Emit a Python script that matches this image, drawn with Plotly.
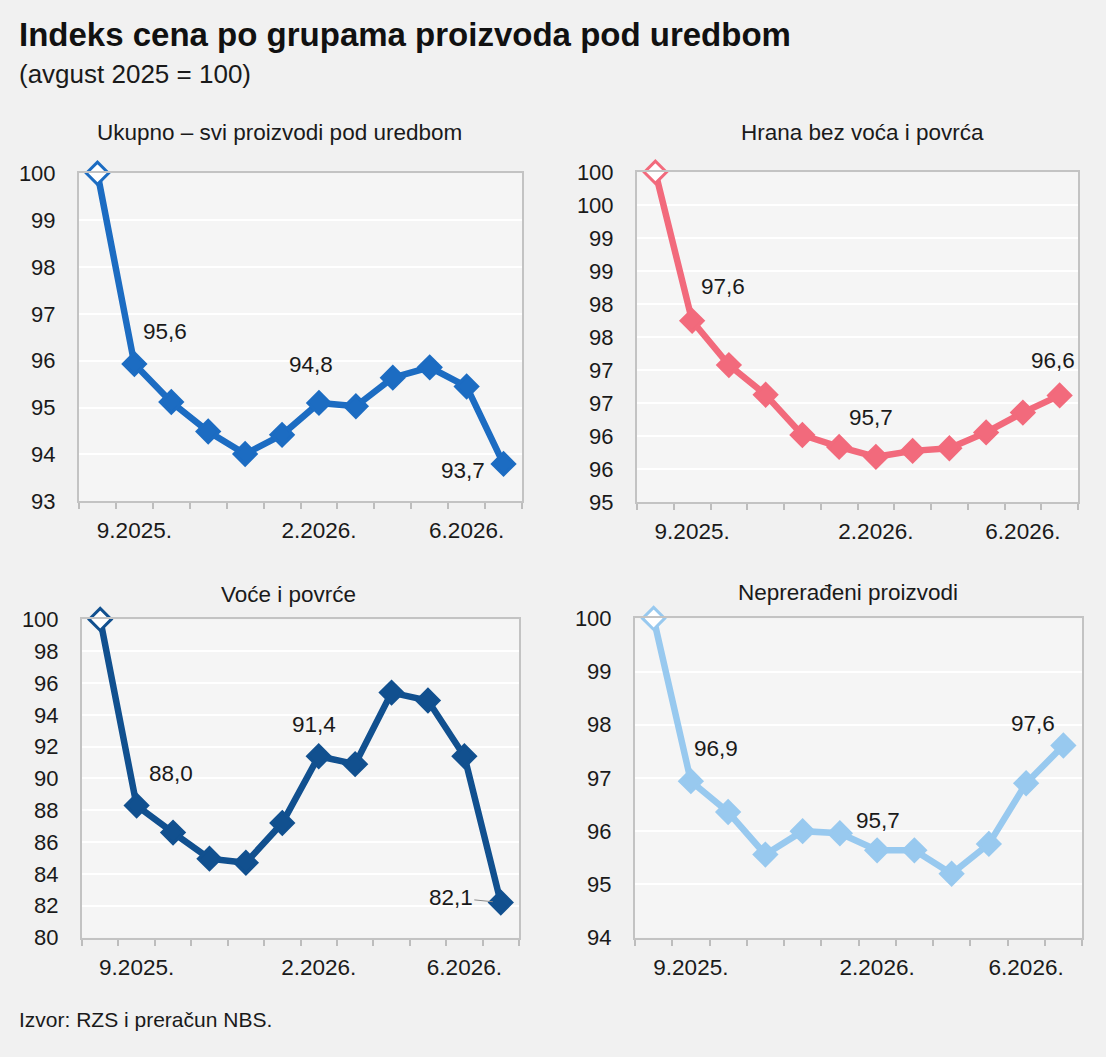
import plotly.graph_objects as go
from plotly.subplots import make_subplots

# months Aug 2025 .. Jul 2026
months = ["8.2025.", "9.2025.", "10.2025.", "11.2025.", "12.2025.", "1.2026.",
          "2.2026.", "3.2026.", "4.2026.", "5.2026.", "6.2026.", "7.2026."]
tick_months = ["9.2025.", "2.2026.", "6.2026."]

ukupno = [100.0, 95.93, 95.12, 94.49, 94.01, 94.42, 95.10, 95.03, 95.64, 95.86, 95.45, 93.80]
hrana = [100.0, 97.75, 97.08, 96.63, 96.02, 95.84, 95.69, 95.78, 95.82, 96.06, 96.36, 96.62]
voce = [100.0, 88.3, 86.6, 84.96, 84.7, 87.2, 91.4, 90.9, 95.4, 94.9, 91.4, 82.2]
neprer = [100.0, 96.94, 96.36, 95.56, 96.0, 95.96, 95.64, 95.64, 95.2, 95.76, 96.9, 97.61]

ukupno_labels = {1: "95,6", 6: "94,8", 11: "93,7"}
hrana_labels = {1: "97,6", 6: "95,7", 11: "96,6"}
voce_labels = {1: "88,0", 6: "91,4", 11: "82,1"}
neprer_labels = {1: "96,9", 6: "95,7", 11: "97,6"}

# y ticks
ukupno_ticks = [93, 94, 95, 96, 97, 98, 99, 100]
hrana_ticks = [95, 95.5, 96, 96.5, 97, 97.5, 98, 98.5, 99, 99.5, 100]
hrana_ticktext = ["95", "96", "96", "97", "97", "98", "98", "99", "99", "100", "100"]
voce_ticks = [80, 82, 84, 86, 88, 90, 92, 94, 96, 98, 100]
neprer_ticks = [94, 95, 96, 97, 98, 99, 100]

W, H = 1106, 1057
FONT = "Liberation Sans, Arial, sans-serif"
BG = "#f1f1f1"
TXT = "#1a1a1a"


def py(v):
    # pixel row measured on the target -> paper fraction (small vertical correction)
    return 1 - ((v - 12.8) / 0.976) / H


panels = [
    dict(title="Ukupno – svi proizvodi pod uredbom", y=ukupno, labels=ukupno_labels,
         ticks=ukupno_ticks, ticktext=[str(t) for t in ukupno_ticks], color="#1c6cc2",
         box=(79, 522, 174, 502), title_pos=(279, 133),
         offs={1: (7, 33, "left"), 6: (-8, 38, "center"), 11: (-17, -7, "right")}),
    dict(title="Hrana bez voća i povrća", y=hrana, labels=hrana_labels,
         ticks=hrana_ticks, ticktext=hrana_ticktext, color="#f26a7c",
         box=(637, 1078, 173, 503), title_pos=(862, 133),
         offs={1: (7, 34, "left"), 6: (-5, 39, "center"), 11: (-7, 35, "center")}),
    dict(title="Voće i povrće", y=voce, labels=voce_labels,
         ticks=voce_ticks, ticktext=[str(t) for t in voce_ticks], color="#11508f",
         box=(82, 519, 620, 938), title_pos=(288, 595),
         offs={1: (10, 32, "left"), 6: (-5, 32, "center"), 11: None}),
    dict(title="Neprerađeni proizvodi", y=neprer, labels=neprer_labels,
         ticks=neprer_ticks, ticktext=[str(t) for t in neprer_ticks], color="#98c9ef",
         box=(635, 1082, 619, 938), title_pos=(848, 593),
         offs={1: (1, 33, "left"), 6: (1, 30, "center"), 11: (-30, 22, "center")}),
]

fig = make_subplots(rows=2, cols=2)
idx = list(range(len(months)))
tick_idx = [months.index(m) for m in tick_months]
annotations = []

for k, p in enumerate(panels):
    r, c = k // 2 + 1, k % 2 + 1
    col = p["color"]
    fig.add_trace(go.Scatter(
        x=idx, y=p["y"], mode="lines+markers", cliponaxis=False,
        line=dict(color=col, width=6.5),
        marker=dict(symbol="diamond", size=17,
                    color=["white"] + [col] * (len(idx) - 1),
                    line=dict(color=col, width=3)),
        hovertext=months, showlegend=False), row=r, col=c)

    x0, x1, y0, y1 = p["box"]
    ax_n = "" if k == 0 else str(k + 1)
    fig.layout["xaxis" + ax_n].update(
        domain=[x0 / W, x1 / W], range=[-0.5, len(idx) - 0.5],
        tickmode="array", tickvals=tick_idx, ticktext=tick_months, ticks="",
        ticklabelstandoff=8,
        minor=dict(tick0=-0.5, dtick=1, ticks="outside", ticklen=6,
                   tickcolor="#bdbdbd", tickwidth=1.5, showgrid=False),
        showgrid=False, zeroline=False, showline=True, mirror=True,
        linecolor="#c3c3c3", linewidth=2,
        tickfont=dict(family=FONT, size=22.5, color=TXT), fixedrange=True)
    fig.layout["yaxis" + ax_n].update(
        domain=[py(y1), py(y0)], range=[p["ticks"][0], p["ticks"][-1]],
        tickmode="array", tickvals=p["ticks"], ticktext=p["ticktext"], ticks="",
        ticklabelstandoff=17,
        showgrid=True, gridcolor="white", gridwidth=1.5, zeroline=False,
        showline=True, mirror=True, linecolor="#c3c3c3", linewidth=2,
        tickfont=dict(family=FONT, size=22, color=TXT), fixedrange=True)

    annotations.append(dict(text=p["title"], x=p["title_pos"][0] / W, y=py(p["title_pos"][1]),
                            xref="paper", yref="paper", showarrow=False, xanchor="center",
                            yanchor="middle", font=dict(family=FONT, size=22.5, color=TXT)))

    xr, yr = "x" + ax_n, "y" + ax_n
    for i, txt in p["labels"].items():
        off = p["offs"][i]
        if off is None:
            # label with a short leader line
            annotations.append(dict(text=txt, x=i, y=p["y"][i], xref=xr, yref=yr,
                                    showarrow=True, arrowhead=0, arrowwidth=1,
                                    arrowcolor="#8a8a8a", ax=-50, ay=-5, standoff=8,
                                    font=dict(family=FONT, size=22.5, color=TXT)))
        else:
            dx, dy, anc = off
            annotations.append(dict(text=txt, x=i, y=p["y"][i], xref=xr, yref=yr,
                                    showarrow=False, xanchor=anc, yanchor="middle",
                                    xshift=dx, yshift=dy,
                                    font=dict(family=FONT, size=22.5, color=TXT)))

annotations += [
    dict(text="<b>Indeks cena po grupama proizvoda pod uredbom</b>", x=17 / W, y=py(35),
         xref="paper", yref="paper", showarrow=False, xanchor="left", yanchor="middle",
         font=dict(family=FONT, size=33, color="#111111")),
    dict(text="(avgust 2025 = 100)", x=17 / W, y=py(75),
         xref="paper", yref="paper", showarrow=False, xanchor="left", yanchor="middle",
         font=dict(family=FONT, size=26, color=TXT)),
    dict(text="Izvor: RZS i preračun NBS.", x=17 / W, y=py(1020),
         xref="paper", yref="paper", showarrow=False, xanchor="left", yanchor="middle",
         font=dict(family=FONT, size=21, color=TXT)),
]

fig.update_layout(
    width=W, height=H, margin=dict(l=0, r=0, t=0, b=0),
    paper_bgcolor=BG, plot_bgcolor="#f5f5f5",
    annotations=annotations, showlegend=False,
)

# pin the figure to the top-left corner so the page is exactly the figure
pin = ("document.documentElement.style.margin='0';"
       "document.body.style.margin='0';document.body.style.overflow='hidden';"
       "document.documentElement.style.height='%dpx';document.body.style.height='%dpx';"
       "document.body.style.background='%s';"
       "var gd=document.getElementById('{plot_id}');"
       "gd.style.position='fixed';gd.style.top='0px';gd.style.left='0px';") % (H, H, BG)
fig.write_html("out.html", config={"displayModeBar": False}, post_script=pin)
